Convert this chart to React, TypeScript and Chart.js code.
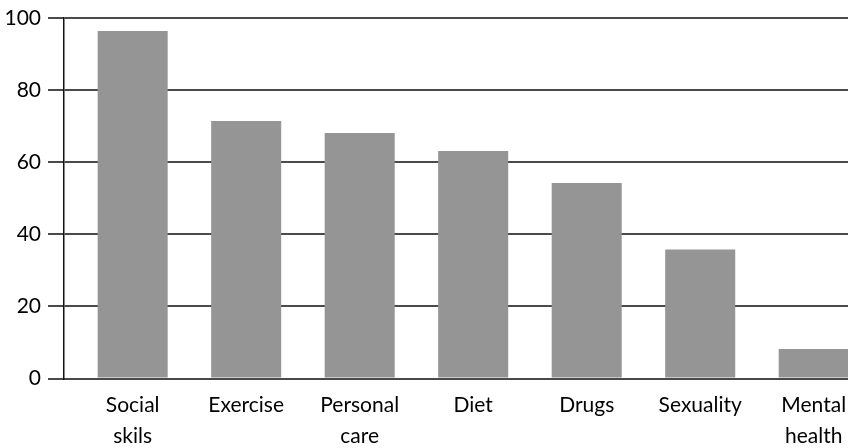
import React, { useEffect, useRef } from "react";
import { Chart, registerables } from "chart.js";

Chart.register(...registerables);

const categories: string[][] = [
  ["Social", "skils"],
  ["Exercise"],
  ["Personal", "care"],
  ["Diet"],
  ["Drugs"],
  ["Sexuality"],
  ["Mental", "health"],
];
const values: number[] = [96.4, 71.4, 68.1, 63.1, 54.2, 35.8, 8.2];
const yTicks: number[] = [0, 20, 40, 60, 80, 100];

export default function App() {
  const ref = useRef<HTMLCanvasElement | null>(null);

  useEffect(() => {
    if (!ref.current) return;
    const font = { family: "Lato, 'Noto Sans', sans-serif", size: 21, lineHeight: 1.45 };
    const chart = new Chart(ref.current, {
      type: "bar",
      data: {
        datasets: [
          {
            data: values.map((v, i) => ({ x: i, y: v })),
            backgroundColor: "#959595",
            borderWidth: 0,
            barPercentage: 0.617,
            categoryPercentage: 1,
          },
        ],
      },
      options: {
        animation: false,
        responsive: true,
        maintainAspectRatio: false,
        layout: { padding: { top: 18, right: 0, left: 0, bottom: 0 } },
        plugins: { legend: { display: false }, tooltip: { enabled: false } },
        scales: {
          x: {
            type: "linear",
            offset: false,
            min: -0.605,
            max: 6.302,
            afterBuildTicks: (scale: any) => {
              scale.ticks = categories.map((_, i) => ({ value: i }));
            },
            afterFit: (scale: any) => {
              scale.height = 69.5;
              scale.paddingLeft = 0;
              scale.paddingRight = 0;
            },
            ticks: {
              color: "#000",
              font,
              padding: 4,
              maxRotation: 0,
              autoSkip: false,
              callback: (v: any) => categories[v as number] ?? "",
            },
            grid: { display: false },
            border: { display: true, color: "#4a4a4a", width: 2 },
          },
          y: {
            min: 0,
            max: 100,
            afterBuildTicks: (scale: any) => {
              scale.ticks = yTicks.map((v) => ({ value: v }));
            },
            afterFit: (scale: any) => {
              scale.width = 64;
              scale.paddingTop = 0;
              scale.paddingBottom = 0;
            },
            ticks: { color: "#000", font, padding: 7 },
            grid: { color: "#4a4a4a", lineWidth: 2, tickLength: 16, drawTicks: true },
            border: { display: true, color: "#111", width: 1.5 },
          },
        },
      },
    } as any);
    return () => chart.destroy();
  }, []);

  return (
    <div style={{ position: "absolute", left: 0, top: 0, width: 848, height: 448 }}>
      <canvas ref={ref} />
    </div>
  );
}
